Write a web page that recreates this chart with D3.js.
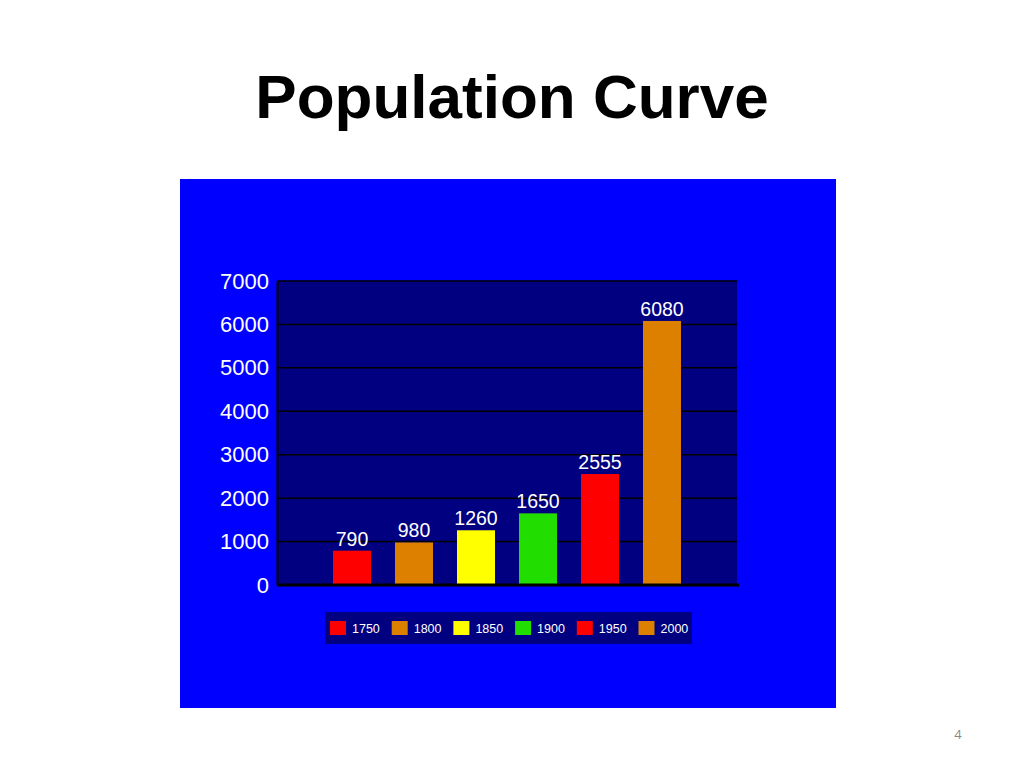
<!DOCTYPE html>
<html><head><meta charset="utf-8">
<script src="https://cdn.jsdelivr.net/npm/d3@7"></script>
<style>body{margin:0;background:#fff}svg{display:block}</style>
</head><body>
<svg id="c" width="1024" height="768"></svg>
<script>
const categories = ["1750","1800","1850","1900","1950","2000"];
const values = [790, 980, 1260, 1650, 2555, 6080];
const colors = ["#FF0000","#DD8000","#FFFF00","#22DD00","#FF0000","#DD8000"];
const yTicks = [0,1000,2000,3000,4000,5000,6000,7000];

const svg = d3.select("#c");
svg.append("text").attr("x",512).attr("y",118).attr("text-anchor","middle")
  .attr("font-family","Liberation Sans, Arial, sans-serif").attr("font-weight","bold")
  .attr("font-size",62).attr("fill","#000").text("Population Curve");
svg.append("text").attr("x",958).attr("y",739).attr("text-anchor","middle")
  .attr("font-family","Open Sans, sans-serif").attr("font-size",13).attr("fill","#888").text("4");

svg.append("rect").attr("x",180).attr("y",179).attr("width",656).attr("height",529).attr("fill","#0000FF");

const pl=277, pr=737, pt=281, pb=585;
const y = d3.scaleLinear().domain([0,7000]).range([pb,pt]);
const x = d3.scaleBand().domain(categories).range([pl,pr]).paddingInner(0.387).paddingOuter(0.903);

svg.append("rect").attr("x",pl).attr("y",pt).attr("width",pr-pl).attr("height",pb-pt).attr("fill","#000080");

const g = svg.append("g");
g.selectAll("line.grid").data(yTicks.filter(d=>d>0)).join("line")
  .attr("x1",pl).attr("x2",pr).attr("y1",d=>y(d)).attr("y2",d=>y(d))
  .attr("stroke","#000").attr("stroke-width",1.5);

const yAxis = svg.append("g").attr("transform",`translate(${pl},0)`)
  .call(d3.axisLeft(y).tickValues(yTicks).tickSize(0).tickPadding(8).tickFormat(d3.format("d")));
yAxis.select(".domain").attr("stroke","#000").attr("stroke-width",2);
yAxis.selectAll("text").attr("fill","#fff").attr("font-size",22)
  .attr("font-family","Liberation Sans, Arial, sans-serif");

g.selectAll("rect.bar").data(values).join("rect")
  .attr("x",(d,i)=>x(categories[i])).attr("width",x.bandwidth())
  .attr("y",d=>y(d)).attr("height",d=>pb-y(d)).attr("fill",(d,i)=>colors[i]);

g.selectAll("text.val").data(values).join("text")
  .attr("x",(d,i)=>x(categories[i])+x.bandwidth()/2).attr("y",d=>y(d)-5)
  .attr("text-anchor","middle").attr("fill","#fff").attr("font-size",19.5)
  .attr("font-family","Liberation Sans, Arial, sans-serif").text(d=>d);

svg.append("line").attr("x1",pl).attr("x2",pr+2).attr("y1",pb).attr("y2",pb)
  .attr("stroke","#000").attr("stroke-width",3);

// legend
const lg = svg.append("g").attr("transform","translate(325,612)");
lg.append("rect").attr("width",367).attr("height",32).attr("fill","#000080");
const items = lg.selectAll("g.it").data(categories).join("g")
  .attr("transform",(d,i)=>`translate(${5+i*61.7},9)`);
items.append("rect").attr("width",16).attr("height",14).attr("fill",(d,i)=>colors[i]);
items.append("text").attr("x",22).attr("y",12).attr("fill","#fff").attr("font-size",12.5)
  .attr("font-family","Liberation Sans, Arial, sans-serif").text(d=>d);
</script>
</body></html>
